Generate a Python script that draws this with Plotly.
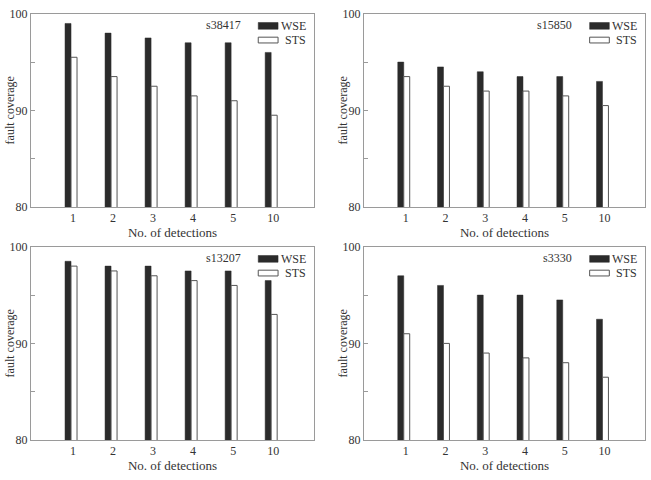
import plotly.graph_objects as go

detections = ["1", "2", "3", "4", "5", "10"]
circuits = ["s38417", "s15850", "s13207", "s3330"]
wse_s38417 = [99, 98, 97.5, 97, 97, 96]
sts_s38417 = [95.5, 93.5, 92.5, 91.5, 91, 89.5]
wse_s15850 = [95, 94.5, 94, 93.5, 93.5, 93]
sts_s15850 = [93.5, 92.5, 92, 92, 91.5, 90.5]
wse_s13207 = [98.5, 98, 98, 97.5, 97.5, 96.5]
sts_s13207 = [98, 97.5, 97, 96.5, 96, 93]
wse_s3330 = [97, 96, 95, 95, 94.5, 92.5]
sts_s3330 = [91, 90, 89, 88.5, 88, 86.5]
y_ticks = [80, 90, 100]
y_minor = [85, 95]

series = [
    (wse_s38417, sts_s38417),
    (wse_s15850, sts_s15850),
    (wse_s13207, sts_s13207),
    (wse_s3330, sts_s3330),
]

W, H = 651, 480
FONT = "Liberation Serif"
TXT = "#333333"
FRAME = "#9a9a9a"

# pixel boxes (left, top, right, bottom)
boxes = [(31, 7, 314, 206), (364, 7, 645, 206), (31, 247, 314, 446), (364, 247, 645, 446)]

fig = go.Figure()
layout = dict(
    width=W, height=H, margin=dict(l=0, r=0, t=0, b=0),
    paper_bgcolor="white", plot_bgcolor="white",
    showlegend=False, barmode="group", bargap=0.7, bargroupgap=0,
    font=dict(family=FONT, size=12, color=TXT),
)
shapes = []
annotations = []
for i, ((wse, sts), (l, t, r, b)) in enumerate(zip(series, boxes)):
    n = "" if i == 0 else str(i + 1)
    xa, ya = "x" + n, "y" + n
    fig.add_trace(go.Bar(x=detections, y=wse, name="WSE", xaxis=xa, yaxis=ya,
                         marker=dict(color="#2b2b2b", line=dict(color="#2b2b2b", width=0.5)),
                         base=0))
    fig.add_trace(go.Bar(x=detections, y=sts, name="STS", xaxis=xa, yaxis=ya,
                         marker=dict(color="white", line=dict(color="#555555", width=1)),
                         base=0))
    layout["xaxis" + n] = dict(
        domain=[l / W, r / W], anchor=ya, type="category", range=[-1.0, 6.07],
        showline=True, linecolor=FRAME, linewidth=1, mirror=True,
        ticks="", showgrid=False, zeroline=False, ticklabelshift=2,
        tickfont=dict(family=FONT, size=12, color=TXT),
        title=dict(text="No. of detections", font=dict(family=FONT, size=13, color=TXT), standoff=2),
    )
    layout["yaxis" + n] = dict(
        domain=[1 - b / H, 1 - t / H], anchor=xa, range=[80, 100],
        tickvals=y_ticks, ticks="inside", ticklen=4, tickcolor=FRAME,
        minor=dict(tickvals=y_minor, ticks="inside", ticklen=4, tickcolor=FRAME),
        showline=True, linecolor=FRAME, linewidth=1, mirror=True,
        showgrid=False, zeroline=False,
        tickfont=dict(family=FONT, size=12, color=TXT),
    )
    xd, yd = xa + " domain", ya + " domain"
    annotations.append(dict(text="fault coverage", xref="paper", yref=yd,
                            x=(l - 21) / W, y=0.5, textangle=-90,
                            xanchor="center", yanchor="middle", showarrow=False,
                            font=dict(family=FONT, size=12, color=TXT)))
    shapes.append(dict(type="rect", xref=xd, yref=yd, x0=0.803, x1=0.873, y0=0.920, y1=0.955,
                       fillcolor="#2b2b2b", line=dict(color="#2b2b2b", width=0.5)))
    shapes.append(dict(type="rect", xref=xd, yref=yd, x0=0.803, x1=0.873, y0=0.849, y1=0.879,
                       fillcolor="white", line=dict(color="#555555", width=1)))
    annotations.append(dict(text=circuits[i], xref=xd, yref=yd, x=0.748, y=0.94,
                            xanchor="right", yanchor="middle", showarrow=False,
                            font=dict(family=FONT, size=12, color=TXT)))
    annotations.append(dict(text="WSE", xref=xd, yref=yd, x=0.98, y=0.937,
                            xanchor="right", yanchor="middle", showarrow=False,
                            font=dict(family=FONT, size=12, color=TXT)))
    annotations.append(dict(text="STS", xref=xd, yref=yd, x=0.98, y=0.864,
                            xanchor="right", yanchor="middle", showarrow=False,
                            font=dict(family=FONT, size=12, color=TXT)))

layout["shapes"] = shapes
layout["annotations"] = annotations
fig.update_layout(**layout)
fig.write_html("out.html")
